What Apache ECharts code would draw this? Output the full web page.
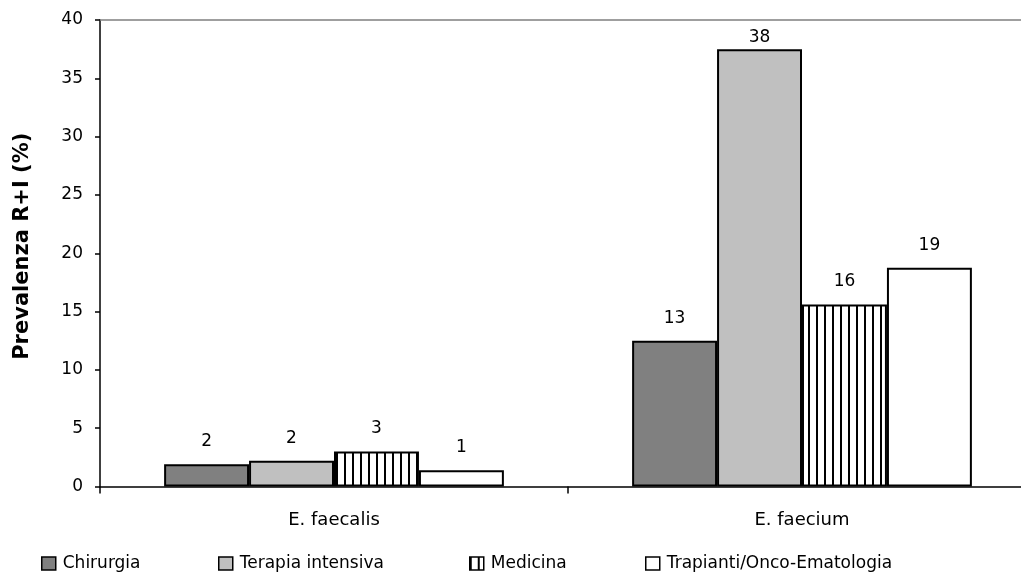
<!DOCTYPE html>
<html>
<head>
<meta charset="utf-8">
<script src="https://cdn.jsdelivr.net/npm/echarts@6/dist/echarts.min.js"></script>
<style>
  html, body { margin: 0; padding: 0; background: #fff; overflow: hidden; }
  /* the plot runs a little past the right edge of the page */
  #chart { width: 1036px; height: 575px; }
</style>
</head>
<body>
<div id="chart"></div>
<script>
// Categories (species) and prevalence of R+I per ward, in percent
const categories = ['E. faecalis', 'E. faecium'];
const seriesNames = ['Chirurgia', 'Terapia intensiva', 'Medicina', 'Trapianti/Onco-Ematologia'];
const chirurgia = [1.9, 12.5];
const terapiaIntensiva = [2.2, 37.5];
const medicina = [3.0, 15.6];
const trapianti = [1.4, 18.75];
const yMin = 0, yMax = 40, yStep = 5;

const FONT = 'DejaVu Sans';

// vertical-stripe fill used by "Medicina"
function stripePattern() {
  const c = document.createElement('canvas');
  c.width = 8; c.height = 8;
  const g = c.getContext('2d');
  g.fillStyle = '#ffffff';
  g.fillRect(0, 0, 8, 8);
  g.fillStyle = '#000000';
  g.fillRect(0, 0, 2, 8);
  return c;
}

const fills = ['#808080', '#C0C0C0', { image: stripePattern(), repeat: 'repeat' }, '#ffffff'];
const values = [chirurgia, terapiaIntensiva, medicina, trapianti];

// value labels sit above each bar; near the top edge they are pulled down inside the plot
function withLabels(arr) {
  return arr.map(v => ({ value: v, label: { distance: v > yMax - 3 ? 3 : 14 } }));
}

const series = seriesNames.map((name, i) => ({
  name: name,
  type: 'bar',
  barGap: '0%',
  barCategoryGap: '27.4%',
  data: withLabels(values[i]),
  itemStyle: { color: fills[i], borderColor: '#000', borderWidth: 2 },
  label: {
    show: true,
    position: 'top',
    color: '#000',
    fontFamily: FONT,
    fontSize: 17,
    formatter: p => Math.round(p.value)
  }
}));

const legendLeft = [41, 218, 469, 645];
const legends = seriesNames.map((name, i) => ({
  data: [name],
  left: legendLeft[i],
  top: 555,
  padding: 0,
  itemWidth: 14,
  itemHeight: 13,
  itemGap: 0,
  icon: 'rect',
  itemStyle: { borderColor: '#000', borderWidth: 1.5 },
  textStyle: { fontFamily: FONT, fontSize: 17, color: '#000', padding: [0, 0, 0, 2] },
  selectedMode: false
}));

const chart = echarts.init(document.getElementById('chart'), null, { renderer: 'canvas' });
chart.setOption({
  animation: false,
  backgroundColor: '#ffffff',
  grid: { left: 100, right: 0, top: 20, bottom: 88.5, containLabel: false },
  legend: legends,
  xAxis: [
    {
      type: 'category',
      data: categories,
      axisLine: { lineStyle: { color: '#000', width: 1.5 } },
      axisTick: { show: true, length: 7, lineStyle: { color: '#000', width: 1.5 } },
      axisLabel: { color: '#000', fontFamily: FONT, fontSize: 18, margin: 25 }
    },
    {
      type: 'category',
      data: categories,
      position: 'top',
      axisLine: { show: true, lineStyle: { color: '#808080', width: 1.5 } },
      axisTick: { show: false },
      axisLabel: { show: false }
    }
  ],
  yAxis: {
    type: 'value',
    min: yMin,
    max: yMax,
    interval: yStep,
    name: 'Prevalenza R+I (%)',
    nameLocation: 'middle',
    nameRotate: 90,
    nameGap: 67,
    nameTextStyle: { fontFamily: FONT, fontSize: 21, fontWeight: 'bold', color: '#000', padding: [0, 0, 0, 14] },
    axisLine: { show: true, lineStyle: { color: '#000', width: 1.5 } },
    axisTick: { show: true, length: 5, lineStyle: { color: '#000', width: 1.5 } },
    axisLabel: { color: '#000', fontFamily: FONT, fontSize: 17, margin: 17 },
    splitLine: { show: false }
  },
  series: series
});
</script>
</body>
</html>
